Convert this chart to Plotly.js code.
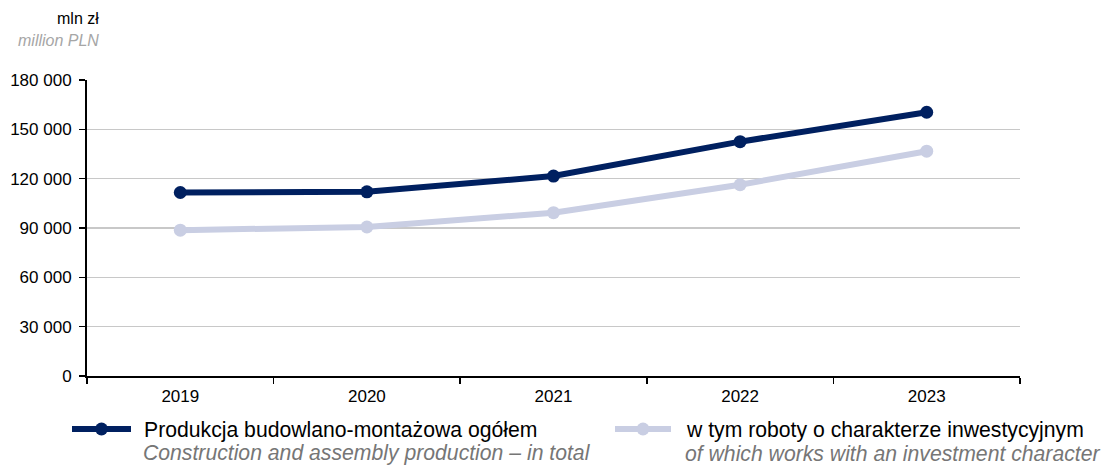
<!DOCTYPE html>
<html><head><meta charset="utf-8">
<script src="https://cdn.plot.ly/plotly-3.0.1.min.js"></script>
<style>body{margin:0;background:#fff}#c{width:1104px;height:465px}</style>
</head><body><div id="c"></div>
<script>
const years = ['2019','2020','2021','2022','2023'];
const totalProduction = [111600, 112000, 121600, 142500, 160400];
const investmentWorks = [88700, 90600, 99300, 116300, 136700];
const seriesNamesPL = ['Produkcja budowlano-montażowa ogółem','w tym roboty o charakterze inwestycyjnym'];
const seriesNamesEN = ['Construction and assembly production – in total','of which works with an investment character'];
const yTicks = [0, 30000, 60000, 90000, 120000, 150000, 180000];
const colors = ['#002060', '#c9cee3'];

const FONT = 'Liberation Sans, Arial, sans-serif';
const traces = [totalProduction, investmentWorks].map((v, i) => ({
  x: years, y: v, type: 'scatter', mode: 'lines+markers',
  line: {color: colors[i], width: 6},
  marker: {color: colors[i], size: 13},
  showlegend: false, hoverinfo: 'skip'
}));

const PX = x => (x - 87) / 933;
const PY = y => (376 - y) / 296;
const shapes = [];
const annotations = [
  {xref:'paper', yref:'paper', x:PX(101), y:PY(18), xanchor:'right', yanchor:'middle', showarrow:false,
   text:'mln zł', font:{family:FONT, size:16, color:'#000'}},
  {xref:'paper', yref:'paper', x:PX(101), y:PY(40), xanchor:'right', yanchor:'middle', showarrow:false,
   text:'<i>million PLN</i>', font:{family:FONT, size:16, color:'#a6a6a6'}}
];
const legSym = [[72, 131], [615, 671]];
const legText = [142, 684];
legSym.forEach((s, i) => {
  const yl = PY(429);
  shapes.push({type:'line', xref:'paper', yref:'paper', x0:PX(s[0]), x1:PX(s[1]), y0:yl, y1:yl,
    line:{color:colors[i], width:6}});
  const c = (s[0] + s[1]) / 2, r = 6.5;
  shapes.push({type:'circle', xref:'paper', yref:'paper', x0:PX(c - r), x1:PX(c + r), y0:PY(429 + r), y1:PY(429 - r),
    fillcolor:colors[i], line:{width:0}});
  annotations.push({xref:'paper', yref:'paper', x:PX(legText[i]), y:PY(430), xanchor:'left', yanchor:'middle',
    showarrow:false, text:seriesNamesPL[i], font:{family:FONT, size:21.2, color:'#000'}});
  annotations.push({xref:'paper', yref:'paper', x:PX(legText[i] - 1), y:PY(453), xanchor:'left', yanchor:'middle',
    showarrow:false, text:'<i>' + seriesNamesEN[i] + '</i>', font:{family:FONT, size:21.2, color:'#767676'}});
});

const layout = {
  width: 1104, height: 465,
  margin: {l: 87, r: 84, t: 80, b: 89},
  paper_bgcolor: '#fff', plot_bgcolor: '#fff',
  font: {family: FONT, size: 17, color: '#000'},
  xaxis: {
    type: 'category', tickson: 'boundaries', ticks: 'outside', ticklen: 6, tickwidth: 1.5, tickcolor: '#000',
    showline: true, linecolor: '#000', linewidth: 2, showgrid: false, zeroline: false,
    tickfont: {family: FONT, size: 17, color: '#000'}, range: [-0.5, 4.5], fixedrange: true,
    ticklabelstandoff: 4
  },
  yaxis: {
    range: [0, 180000], tickvals: yTicks,
    ticktext: yTicks.map(v => String(v).replace(/\B(?=(\d{3})+(?!\d))/g, ' ')),
    ticks: 'outside', ticklen: 6, tickwidth: 1.5, tickcolor: '#000',
    showline: true, linecolor: '#000', linewidth: 2, showgrid: true, gridcolor: '#c8c8c8', gridwidth: 1.3,
    zeroline: false, tickfont: {family: FONT, size: 17, color: '#000'}, fixedrange: true,
    ticklabelstandoff: 4
  },
  shapes: shapes, annotations: annotations, showlegend: false
};
Plotly.newPlot('c', traces, layout, {displayModeBar: false, staticPlot: true});
</script></body></html>
